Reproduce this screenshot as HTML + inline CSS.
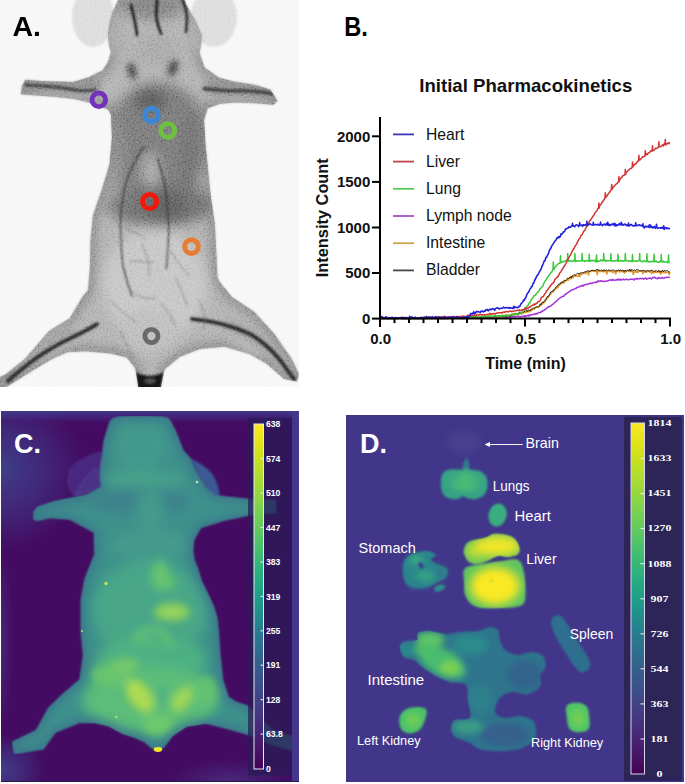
<!DOCTYPE html>
<html><head><meta charset="utf-8"><style>
html,body{margin:0;padding:0;background:#fff;}
body{width:685px;height:784px;overflow:hidden;}
svg{display:block;}
</style></head><body>
<svg width="685" height="784" viewBox="0 0 685 784">
<rect width="685" height="784" fill="#fff"/>

<svg x="0" y="0" width="299" height="387" viewBox="0 0 299 387" overflow="hidden">
 <defs>
  <filter id="blA" x="-5%" y="-5%" width="110%" height="110%"><feGaussianBlur stdDeviation="1.1"/></filter>
  <filter id="blA3" x="-30%" y="-30%" width="160%" height="160%"><feGaussianBlur stdDeviation="3"/></filter>
  <filter id="blA6" x="-30%" y="-30%" width="160%" height="160%"><feGaussianBlur stdDeviation="6"/></filter>
  <filter id="blA1" x="-10%" y="-10%" width="120%" height="120%"><feGaussianBlur stdDeviation="0.8"/></filter>
  <filter id="edgeA" x="-5%" y="-5%" width="110%" height="110%"><feGaussianBlur stdDeviation="5"/></filter>
  <filter id="noiseA" x="0" y="0" width="100%" height="100%">
   <feTurbulence type="fractalNoise" baseFrequency="0.6" numOctaves="2" seed="4" result="t"/>
   <feColorMatrix in="t" type="matrix" values="2 0 0 0 -0.5  2 0 0 0 -0.5  2 0 0 0 -0.5  0 0 0 0 1"/>
  </filter>
  <clipPath id="clA"><path d="M119.5 -3.0 L116.0 5.0 L112.5 12.3 L109.0 25.0 L108.0 35.0 L109.0 45.0 L111.0 52.0 L108.0 62.0 L102.6 70.2 L88.0 77.5 L73.4 81.9 L44.2 81.2 L25.2 79.7 L22.0 86.0 L20.8 94.3 L29.6 95.0 L51.5 96.5 L73.4 98.7 L88.0 102.3 L98.0 106.0 L108.4 109.6 L111.0 115.0 L112.0 138.0 L109.6 164.0 L102.0 189.0 L93.0 215.0 L90.4 240.0 L90.0 266.0 L88.0 290.0 L81.7 298.0 L69.5 318.6 L49.0 331.0 L38.8 343.0 L24.5 359.5 L6.0 374.0 L-2.0 378.0 L-2.0 392.0 L8.0 386.0 L30.7 371.7 L51.0 359.5 L67.4 352.3 L85.8 351.3 L110.4 353.4 L126.7 357.4 L134.9 367.7 L136.0 372.6 L139.0 392.0 L160.0 392.0 L163.7 372.6 L165.0 369.0 L180.0 356.7 L199.8 349.0 L224.6 346.7 L249.5 354.0 L267.0 364.0 L284.0 379.0 L296.8 381.6 L299.0 374.0 L291.8 359.0 L274.4 334.0 L254.5 312.0 L232.0 297.0 L219.7 282.0 L217.5 277.0 L216.2 250.0 L214.8 224.0 L210.8 197.0 L208.1 170.0 L205.4 143.6 L204.0 120.0 L207.5 108.4 L219.2 104.0 L233.8 102.6 L255.7 103.3 L273.2 104.7 L277.6 101.0 L270.3 89.4 L255.7 85.0 L233.8 81.4 L219.2 77.7 L204.6 67.5 L199.5 53.0 L201.0 45.0 L201.9 35.0 L196.0 22.0 L189.6 10.5 L186.0 4.0 L183.5 -3.0 Z"/></clipPath>
 </defs>
 <rect width="299" height="387" fill="#f7f7f7"/>
 <g filter="url(#blA1)">
  <ellipse cx="93" cy="17" rx="21" ry="30" fill="#dcdcdc"/>
  <ellipse cx="214" cy="17" rx="23" ry="30" fill="#dcdcdc"/>
 </g>
 <path d="M119.5 -3.0 L116.0 5.0 L112.5 12.3 L109.0 25.0 L108.0 35.0 L109.0 45.0 L111.0 52.0 L108.0 62.0 L102.6 70.2 L88.0 77.5 L73.4 81.9 L44.2 81.2 L25.2 79.7 L22.0 86.0 L20.8 94.3 L29.6 95.0 L51.5 96.5 L73.4 98.7 L88.0 102.3 L98.0 106.0 L108.4 109.6 L111.0 115.0 L112.0 138.0 L109.6 164.0 L102.0 189.0 L93.0 215.0 L90.4 240.0 L90.0 266.0 L88.0 290.0 L81.7 298.0 L69.5 318.6 L49.0 331.0 L38.8 343.0 L24.5 359.5 L6.0 374.0 L-2.0 378.0 L-2.0 392.0 L8.0 386.0 L30.7 371.7 L51.0 359.5 L67.4 352.3 L85.8 351.3 L110.4 353.4 L126.7 357.4 L134.9 367.7 L136.0 372.6 L139.0 392.0 L160.0 392.0 L163.7 372.6 L165.0 369.0 L180.0 356.7 L199.8 349.0 L224.6 346.7 L249.5 354.0 L267.0 364.0 L284.0 379.0 L296.8 381.6 L299.0 374.0 L291.8 359.0 L274.4 334.0 L254.5 312.0 L232.0 297.0 L219.7 282.0 L217.5 277.0 L216.2 250.0 L214.8 224.0 L210.8 197.0 L208.1 170.0 L205.4 143.6 L204.0 120.0 L207.5 108.4 L219.2 104.0 L233.8 102.6 L255.7 103.3 L273.2 104.7 L277.6 101.0 L270.3 89.4 L255.7 85.0 L233.8 81.4 L219.2 77.7 L204.6 67.5 L199.5 53.0 L201.0 45.0 L201.9 35.0 L196.0 22.0 L189.6 10.5 L186.0 4.0 L183.5 -3.0 Z" fill="#b0b0b0" filter="url(#blA)"/>
 <g clip-path="url(#clA)">
  <path d="M119.5 -3.0 L116.0 5.0 L112.5 12.3 L109.0 25.0 L108.0 35.0 L109.0 45.0 L111.0 52.0 L108.0 62.0 L102.6 70.2 L88.0 77.5 L73.4 81.9 L44.2 81.2 L25.2 79.7 L22.0 86.0 L20.8 94.3 L29.6 95.0 L51.5 96.5 L73.4 98.7 L88.0 102.3 L98.0 106.0 L108.4 109.6 L111.0 115.0 L112.0 138.0 L109.6 164.0 L102.0 189.0 L93.0 215.0 L90.4 240.0 L90.0 266.0 L88.0 290.0 L81.7 298.0 L69.5 318.6 L49.0 331.0 L38.8 343.0 L24.5 359.5 L6.0 374.0 L-2.0 378.0 L-2.0 392.0 L8.0 386.0 L30.7 371.7 L51.0 359.5 L67.4 352.3 L85.8 351.3 L110.4 353.4 L126.7 357.4 L134.9 367.7 L136.0 372.6 L139.0 392.0 L160.0 392.0 L163.7 372.6 L165.0 369.0 L180.0 356.7 L199.8 349.0 L224.6 346.7 L249.5 354.0 L267.0 364.0 L284.0 379.0 L296.8 381.6 L299.0 374.0 L291.8 359.0 L274.4 334.0 L254.5 312.0 L232.0 297.0 L219.7 282.0 L217.5 277.0 L216.2 250.0 L214.8 224.0 L210.8 197.0 L208.1 170.0 L205.4 143.6 L204.0 120.0 L207.5 108.4 L219.2 104.0 L233.8 102.6 L255.7 103.3 L273.2 104.7 L277.6 101.0 L270.3 89.4 L255.7 85.0 L233.8 81.4 L219.2 77.7 L204.6 67.5 L199.5 53.0 L201.0 45.0 L201.9 35.0 L196.0 22.0 L189.6 10.5 L186.0 4.0 L183.5 -3.0 Z" fill="none" stroke="#7e7e7e" stroke-width="12" filter="url(#edgeA)" opacity="0.75"/>
  <g filter="url(#blA6)">
   <ellipse cx="152" cy="6" rx="32" ry="14" fill="#808080"/>
   <ellipse cx="156" cy="50" rx="22" ry="16" fill="#a6a6a6"/>
   <ellipse cx="116" cy="35" rx="9" ry="22" fill="#a8a8a8"/>
   <ellipse cx="195" cy="35" rx="9" ry="22" fill="#a8a8a8"/>
   <ellipse cx="158" cy="140" rx="52" ry="58" fill="#777"/>
   <ellipse cx="150" cy="100" rx="16" ry="12" fill="#5c5c5c"/>
   <ellipse cx="160" cy="205" rx="54" ry="22" fill="#6e6e6e"/>
   <ellipse cx="170" cy="205" rx="28" ry="14" fill="#5e5e5e"/>
   <ellipse cx="151" cy="170" rx="9" ry="17" fill="#a8a8a8"/>
   <ellipse cx="190" cy="165" rx="9" ry="55" fill="#6e6e6e"/>
   <ellipse cx="118" cy="165" rx="7" ry="45" fill="#868686"/>
   <ellipse cx="155" cy="285" rx="52" ry="55" fill="#c4c4c4"/>
   <ellipse cx="150" cy="330" rx="30" ry="22" fill="#bcbcbc"/>
   <ellipse cx="60" cy="340" rx="25" ry="8" fill="#b8b8b8" transform="rotate(-35 60 340)"/>
   <ellipse cx="245" cy="340" rx="25" ry="8" fill="#b8b8b8" transform="rotate(35 245 340)"/>
   <ellipse cx="60" cy="94" rx="30" ry="3" fill="#b8b8b8"/>
   <ellipse cx="245" cy="99" rx="28" ry="3" fill="#b8b8b8"/>
  </g>
  <g filter="url(#blA3)">
   <path d="M22 82 C50 82 75 84 100 80 L100 92 C75 92 50 90 22 90 Z" fill="#858585"/>
   <path d="M205 80 C230 84 255 86 276 92 L276 100 C255 96 230 94 205 94 Z" fill="#858585"/>
   <path d="M70 322 C55 330 35 345 15 365 L22 375 C40 360 58 346 80 336 Z" fill="#9c9c9c"/>
   <path d="M225 318 C250 325 270 340 290 365 L283 372 C265 352 248 338 222 330 Z" fill="#9c9c9c"/>
  </g>
  <g filter="url(#blA3)">
   <ellipse cx="132" cy="71" rx="4" ry="9" fill="#3c3c3c" transform="rotate(-15 132 71)"/>
   <ellipse cx="173" cy="68" rx="4.5" ry="9" fill="#3c3c3c" transform="rotate(20 173 68)"/>
  </g>
  <g fill="none" stroke="#2a2a2a" stroke-linecap="round" filter="url(#blA1)">
   <path d="M26 85 C45 86 60 87.5 72 89.5 C80 91 88 91 95 90" stroke-width="3" stroke="#404040"/>
   <path d="M204 88.7 C215 90 225 91 234 91 C245 91 258 90 272 94" stroke-width="3.2" stroke="#3a3a3a"/>
   <path d="M97 324 C85 332 72 337 61 343 C50 349 40 355 31 362 C22 369 14 375 8 381" stroke-width="4"/>
   <path d="M192 319 C215 321 235 327 250 334 C262 341 272 350 280 360 C286 368 290 374 294 379" stroke-width="4"/>
   <path d="M143.6 146.9 C135 160 128 175 125 186 C121 205 120 222 120.7 232 C121 245 122 258 123 266 C126 278 129 288 132 296" stroke-width="1.3" stroke="#333"/>
   <path d="M157.4 158.4 C162 170 165 185 166.5 197 C168 215 169 225 168.8 232 C168 248 167 258 166.5 268.5" stroke-width="1.3" stroke="#333"/>
   <path d="M131 5 C133 14 136 24 137 35" stroke-width="2.8" stroke="#1e1e1e"/>
   <path d="M157.2 0 C156.5 7 156 13 156.5 18 C157.5 24 159 29 161 33.5" stroke-width="2.8" stroke="#1e1e1e"/>
   <path d="M182.6 0 C185 6 187 12 187 18 C187 24 186.5 28 186 32" stroke-width="2.4" stroke="#1e1e1e"/>
   <path d="M125 228 C132 234 140 232 146 240 M130 262 C138 259 146 264 154 262 M170 250 C176 260 181 268 190 276 M110 300 C118 308 126 316 136 322 M142 244 C146 254 150 262 149 276 M176 278 C180 288 184 298 188 306 M130 290 C137 297 146 300 156 298 M160 302 C166 309 172 316 175 326 M199 300 C203 309 206 318 204 328 M121 332 C125 341 129 349 133 357" stroke-width="0.7" stroke="#666"/>
  </g>
  <path d="M135.5 372 C145 377 155 377 164 372 L160.5 390 L138.5 390 Z" fill="#161616" filter="url(#blA1)"/>
  <ellipse cx="150" cy="381" rx="6" ry="3" fill="#4a4a4a" filter="url(#blA1)"/>
 </g>
 <rect x="0" y="0" width="299" height="387" fill="#777" filter="url(#noiseA)" opacity="0.2" style="mix-blend-mode:overlay"/>
 <g fill="none" stroke-width="4.9">
  <circle cx="98.8" cy="99.8" r="6.8" stroke="#7432bc"/>
  <circle cx="151.5" cy="115" r="6.8" stroke="#3b87d6"/>
  <circle cx="167.8" cy="130.5" r="6.9" stroke="#6cc23e"/>
  <circle cx="149.6" cy="201.6" r="7.1" stroke="#f2180e"/>
  <circle cx="191.5" cy="246.6" r="6.9" stroke="#ea7c32"/>
  <circle cx="151.4" cy="336" r="6.6" stroke="#6a6a6a"/>
 </g>
 <text x="12.5" y="36.1" font-family="Liberation Sans" font-weight="bold" font-size="28.5" fill="#000">A.</text>
</svg>

<text x="344.3" y="36.2" font-family="Liberation Sans" font-weight="bold" font-size="28.5" textLength="23.6" lengthAdjust="spacingAndGlyphs" fill="#000">B.</text>
<text x="419.3" y="91.8" font-family="Liberation Sans" font-weight="bold" font-size="19" textLength="213" lengthAdjust="spacingAndGlyphs" fill="#111">Initial Pharmacokinetics</text>
<g font-family="Liberation Sans" font-weight="bold" font-size="15" fill="#111"><text x="370.3" y="324.0" text-anchor="end">0</text><text x="370.3" y="278.4" text-anchor="end">500</text><text x="370.3" y="232.9" text-anchor="end">1000</text><text x="370.3" y="187.3" text-anchor="end">1500</text><text x="370.3" y="141.7" text-anchor="end">2000</text><text x="380.6" y="344.2" text-anchor="middle">0.0</text><text x="525.6" y="344.2" text-anchor="middle">0.5</text><text x="670.6" y="344.2" text-anchor="middle">1.0</text></g>
<text x="525.5" y="368.5" text-anchor="middle" font-family="Liberation Sans" font-weight="bold" font-size="16" fill="#111">Time (min)</text>
<text transform="translate(328.3,217.7) rotate(-90)" text-anchor="middle" font-family="Liberation Sans" font-weight="bold" font-size="16.7" textLength="119" lengthAdjust="spacingAndGlyphs" fill="#111">Intensity Count</text>
<g font-family="Liberation Sans" font-size="15.7" fill="#111"><line x1="393" y1="134.4" x2="414" y2="134.4" stroke="#3838b4" stroke-width="1.8"/><text x="426" y="140.4">Heart</text><line x1="393" y1="161.6" x2="414" y2="161.6" stroke="#c24646" stroke-width="1.8"/><text x="426" y="167.3">Liver</text><line x1="393" y1="188.8" x2="414" y2="188.8" stroke="#56c85a" stroke-width="1.8"/><text x="426" y="194.3">Lung</text><line x1="393" y1="216.0" x2="414" y2="216.0" stroke="#a24ed2" stroke-width="1.8"/><text x="426" y="221.2">Lymph node</text><line x1="393" y1="243.2" x2="414" y2="243.2" stroke="#cfa24e" stroke-width="1.8"/><text x="426" y="248.2">Intestine</text><line x1="393" y1="270.4" x2="414" y2="270.4" stroke="#484848" stroke-width="1.8"/><text x="426" y="275.1">Bladder</text></g>
<g fill="none" stroke-linejoin="round">
 <path d="M381.0 318.0L381.8 318.2L382.6 318.4L383.4 318.5L384.2 318.5L385.0 318.6L385.8 318.1L386.6 318.6L387.4 318.6L388.2 318.6L389.0 318.6L389.8 318.6L390.6 318.6L391.4 318.6L392.2 318.4L393.0 318.2L393.8 318.0L394.6 318.6L395.4 318.6L396.2 318.1L397.0 318.4L397.8 318.6L398.6 318.3L399.4 318.2L400.2 318.3L401.0 317.7L401.8 318.4L402.6 318.3L403.4 318.6L404.2 318.6L405.0 318.3L405.8 318.4L406.6 318.6L407.4 318.6L408.2 318.5L409.0 318.4L409.8 317.9L410.6 318.3L411.4 318.4L412.2 318.1L413.0 318.6L413.8 317.7L414.6 318.3L415.4 318.6L416.2 318.6L417.0 318.6L417.8 317.8L418.6 318.1L419.4 318.4L420.2 318.4L421.0 318.2L421.8 318.1L422.6 318.6L423.4 317.9L424.2 318.1L425.0 318.6L425.8 318.6L426.6 318.6L427.4 318.0L428.2 318.0L429.0 317.9L429.8 317.8L430.6 318.1L431.4 318.6L432.2 318.4L433.0 318.0L433.8 318.0L434.6 317.8L435.4 318.6L436.2 317.4L437.0 318.3L437.8 317.6L438.6 317.8L439.4 317.6L440.2 318.6L441.0 318.2L441.8 318.6L442.6 317.8L443.4 317.7L444.2 318.4L445.0 318.4L445.8 318.0L446.6 317.3L447.4 318.6L448.2 318.3L449.0 318.2L449.8 317.8L450.6 318.3L451.4 317.8L452.2 318.1L453.0 318.0L453.8 318.5L454.6 317.8L455.4 317.9L456.2 318.4L457.0 318.1L457.8 318.0L458.6 317.9L459.4 318.3L460.2 317.7L461.0 318.1L461.8 318.6L462.6 318.0L463.4 317.6L464.2 317.4L465.0 317.9L465.8 317.3L466.6 317.2L467.4 317.5L468.2 317.4L469.0 318.1L469.8 317.2L470.6 318.4L471.4 317.4L472.2 317.8L473.0 318.0L473.8 317.8L474.6 318.0L475.4 317.3L476.2 316.7L477.0 317.5L477.8 316.9L478.6 317.4L479.4 317.9L480.2 317.5L481.0 317.3L481.8 317.1L482.6 317.4L483.4 317.4L484.2 316.8L485.0 317.6L485.8 317.0L486.6 317.5L487.4 317.2L488.2 317.8L489.0 317.7L489.8 317.3L490.6 317.3L491.4 317.5L492.2 317.8L493.0 317.7L493.8 317.3L494.6 317.3L495.4 317.8L496.2 316.5L497.0 317.4L497.8 316.8L498.6 317.7L499.4 316.9L500.2 317.0L501.0 316.6L501.8 317.0L502.6 317.3L503.4 317.7L504.2 316.5L505.0 316.8L505.8 318.5L506.6 317.3L507.4 316.9L508.2 317.1L509.0 315.8L509.8 317.5L510.6 316.9L511.4 316.2L512.2 317.2L513.0 316.5L513.8 316.3L514.6 316.9L515.4 316.8L516.2 316.4L517.0 316.6L517.8 316.0L518.6 316.0L519.4 316.9L520.2 317.0L521.0 316.6L521.8 316.6L522.6 316.2L523.4 316.2L524.2 315.8L525.0 316.8L525.8 315.7L526.6 316.0L527.4 315.7L528.2 315.0L529.0 316.2L529.8 315.1L530.6 314.8L531.4 315.0L532.2 314.4L533.0 314.6L533.8 314.1L534.6 314.5L535.4 314.1L536.2 313.3L537.0 314.0L537.8 313.3L538.6 312.5L539.4 312.7L540.2 312.3L541.0 312.5L541.8 311.0L542.6 311.2L543.4 310.4L544.2 310.2L545.0 309.4L545.8 309.0L546.6 308.7L547.4 307.5L548.2 306.7L549.0 307.0L549.8 306.3L550.6 305.9L551.4 305.5L552.2 304.5L553.0 304.4L553.8 303.3L554.6 302.6L555.4 302.2L556.2 301.4L557.0 300.5L557.8 299.9L558.6 298.9L559.4 298.3L560.2 297.9L561.0 297.6L561.8 296.5L562.6 296.4L563.4 296.3L564.2 295.8L565.0 294.3L565.8 294.2L566.6 293.4L567.4 293.0L568.2 292.4L569.0 291.8L569.8 291.4L570.6 290.7L571.4 290.1L572.2 289.9L573.0 289.6L573.8 289.5L574.6 288.8L575.4 288.6L576.2 288.5L577.0 287.3L577.8 287.2L578.6 287.2L579.4 286.7L580.2 286.0L581.0 286.5L581.8 285.8L582.6 285.2L583.4 286.1L584.2 284.6L585.0 284.9L585.8 284.4L586.6 284.5L587.4 284.5L588.2 283.7L589.0 283.8L589.8 283.6L590.6 283.0L591.4 283.7L592.2 283.1L593.0 282.8L593.8 282.4L594.6 282.4L595.4 282.4L596.2 282.0L597.0 282.5L597.8 280.9L598.6 280.9L599.4 281.5L600.2 280.7L601.0 281.3L601.8 281.0L602.6 281.4L603.4 281.2L604.2 281.5L605.0 281.3L605.8 281.3L606.6 281.0L607.4 281.1L608.2 280.8L609.0 280.3L609.8 280.0L610.6 279.9L611.4 280.5L612.2 279.3L613.0 280.3L613.8 279.9L614.6 280.4L615.4 280.1L616.2 279.7L617.0 280.0L617.8 279.0L618.6 280.0L619.4 280.0L620.2 279.0L621.0 280.1L621.8 279.6L622.6 279.7L623.4 279.0L624.2 279.8L625.0 279.7L625.8 279.4L626.6 279.0L627.4 279.7L628.2 279.8L629.0 279.4L629.8 279.6L630.6 279.0L631.4 279.2L632.2 279.3L633.0 279.1L633.8 280.1L634.6 279.1L635.4 278.7L636.2 279.2L637.0 278.4L637.8 279.0L638.6 279.1L639.4 278.5L640.2 278.6L641.0 278.3L641.8 278.7L642.6 278.3L643.4 279.2L644.2 278.8L645.0 278.4L645.8 277.8L646.6 279.2L647.4 278.9L648.2 278.5L649.0 278.3L649.8 278.3L650.6 278.0L651.4 278.9L652.2 278.2L653.0 277.5L653.8 277.8L654.6 277.0L655.4 278.2L656.2 278.3L657.0 278.6L657.8 278.7L658.6 277.5L659.4 278.0L660.2 278.2L661.0 278.1L661.8 277.5L662.6 278.0L663.4 277.9L664.2 278.2L665.0 277.6L665.8 277.5L666.6 277.3L667.4 277.4L668.2 277.2L669.0 277.3L669.8 277.6" stroke="#a236d8" stroke-width="1.5"/>
 <path d="M381.0 318.5L381.8 318.1L382.6 318.6L383.4 318.6L384.2 318.6L385.0 317.5L385.8 318.5L386.6 317.7L387.4 318.5L388.2 318.4L389.0 317.7L389.8 318.4L390.6 318.6L391.4 318.5L392.2 318.6L393.0 317.9L393.8 317.9L394.6 317.7L395.4 318.3L396.2 318.6L397.0 318.5L397.8 318.3L398.6 317.7L399.4 318.5L400.2 318.1L401.0 317.3L401.8 317.4L402.6 318.1L403.4 317.8L404.2 318.6L405.0 318.3L405.8 317.7L406.6 318.0L407.4 318.6L408.2 317.8L409.0 318.6L409.8 318.4L410.6 318.6L411.4 318.5L412.2 318.0L413.0 318.5L413.8 318.2L414.6 318.6L415.4 318.1L416.2 318.6L417.0 318.1L417.8 318.4L418.6 317.8L419.4 318.2L420.2 318.2L421.0 318.2L421.8 318.6L422.6 317.9L423.4 317.7L424.2 318.6L425.0 318.0L425.8 317.8L426.6 318.6L427.4 318.5L428.2 316.8L429.0 317.9L429.8 318.4L430.6 318.5L431.4 317.8L432.2 318.6L433.0 317.6L433.8 317.9L434.6 318.1L435.4 318.0L436.2 318.4L437.0 318.5L437.8 317.9L438.6 318.6L439.4 317.6L440.2 317.8L441.0 318.6L441.8 317.9L442.6 318.4L443.4 317.7L444.2 317.7L445.0 317.8L445.8 317.9L446.6 317.7L447.4 317.8L448.2 318.1L449.0 318.4L449.8 317.8L450.6 318.1L451.4 318.2L452.2 317.2L453.0 316.9L453.8 318.5L454.6 318.4L455.4 317.7L456.2 317.8L457.0 317.2L457.8 316.9L458.6 317.8L459.4 316.9L460.2 318.0L461.0 317.2L461.8 317.7L462.6 318.5L463.4 318.5L464.2 317.4L465.0 318.0L465.8 317.0L466.6 317.2L467.4 317.6L468.2 318.1L469.0 317.1L469.8 317.6L470.6 317.4L471.4 316.7L472.2 317.3L473.0 318.0L473.8 317.2L474.6 317.5L475.4 317.7L476.2 316.9L477.0 317.8L477.8 317.9L478.6 318.0L479.4 317.8L480.2 316.9L481.0 316.8L481.8 316.7L482.6 316.6L483.4 316.6L484.2 317.5L485.0 317.7L485.8 316.6L486.6 317.3L487.4 316.3L488.2 316.7L489.0 316.4L489.8 316.0L490.6 316.8L491.4 316.8L492.2 316.6L493.0 316.5L493.8 316.2L494.6 316.6L495.4 316.4L496.2 316.8L497.0 316.0L497.8 316.7L498.6 316.8L499.4 317.1L500.2 317.0L501.0 316.6L501.8 316.1L502.6 315.4L503.4 316.3L504.2 316.9L505.0 316.9L505.8 314.7L506.6 315.5L507.4 315.6L508.2 315.1L509.0 315.6L509.8 315.4L510.6 315.0L511.4 315.1L512.2 314.1L513.0 314.3L513.8 314.1L514.6 314.9L515.4 313.4L516.2 314.0L517.0 314.3L517.8 313.7L518.6 313.9L519.4 313.0L520.2 313.4L521.0 313.4L521.8 313.9L522.6 312.9L523.4 313.1L524.2 312.1L525.0 312.0L525.8 312.5L526.6 311.7L527.4 311.9L528.2 311.3L529.0 311.7L529.8 311.6L530.6 309.7L531.4 310.7L532.2 309.7L533.0 309.4L533.8 308.7L534.6 308.8L535.4 307.5L536.2 307.3L537.0 306.9L537.8 307.0L538.6 306.9L539.4 306.3L540.2 305.7L541.0 304.7L541.8 303.5L542.6 303.8L543.4 302.9L544.2 302.2L545.0 301.8L545.8 300.0L546.6 299.0L547.4 296.9L548.2 297.3L549.0 296.0L549.8 294.6L550.6 294.1L551.4 292.4L552.2 291.7L553.0 292.1L553.8 290.7L554.6 290.0L555.4 289.1L556.2 288.2L557.0 287.2L557.8 287.6L558.6 285.7L559.4 285.4L560.2 284.4L561.0 283.7L561.8 282.1L562.6 281.8L563.4 283.0L564.2 282.5L565.0 281.0L565.8 280.7L566.6 280.5L567.4 279.2L568.2 280.1L569.0 278.2L569.8 278.0L570.6 276.5L570.9 279.0L571.2 276.5L571.4 278.2L572.2 277.1L573.0 277.5L573.8 275.9L574.6 276.2L575.4 275.8L576.2 275.5L577.0 276.2L577.8 276.1L578.6 275.4L579.4 274.2L579.7 276.7L580.0 274.2L580.2 274.6L581.0 274.6L581.8 274.0L582.6 273.8L583.4 273.5L584.2 272.6L585.0 273.0L585.8 273.5L586.6 272.0L587.4 272.3L588.2 272.5L588.5 275.0L588.8 272.5L589.0 271.3L589.8 271.8L590.6 270.9L591.4 271.3L592.2 270.8L593.0 271.0L593.8 271.2L594.6 271.3L595.4 271.3L596.2 270.2L597.0 272.2L597.3 274.7L597.6 272.2L597.8 271.3L598.6 270.9L599.4 271.1L600.2 271.6L601.0 270.9L601.8 271.2L602.6 271.2L603.4 271.7L604.2 271.0L605.0 271.6L605.8 271.6L606.6 271.3L606.9 273.8L607.2 271.3L607.4 272.0L608.2 271.4L609.0 270.8L609.8 271.5L610.6 271.5L611.4 271.4L612.2 271.5L613.0 272.6L613.8 271.5L614.6 271.6L615.4 271.3L615.7 273.8L616.0 271.3L616.2 272.1L617.0 271.4L617.8 271.0L618.6 270.8L619.4 271.7L620.2 271.8L621.0 270.6L621.8 271.0L622.6 271.7L623.4 271.9L624.2 270.7L624.5 273.2L624.8 270.7L625.0 271.2L625.8 271.8L626.6 271.1L627.4 271.2L628.2 271.1L629.0 270.7L629.8 271.4L630.6 271.6L631.4 270.7L632.2 271.5L633.0 272.0L633.3 274.5L633.6 272.0L633.8 271.5L634.6 271.9L635.4 271.2L636.2 272.1L637.0 271.1L637.8 272.4L638.6 271.3L639.4 271.1L640.2 271.1L641.0 271.3L641.8 271.3L642.6 271.2L642.9 273.7L643.2 271.2L643.4 271.4L644.2 271.9L645.0 272.1L645.8 271.5L646.6 272.3L647.4 271.2L648.2 271.2L649.0 271.2L649.8 272.1L650.6 271.0L651.4 271.2L651.7 273.7L652.0 271.2L652.2 272.5L653.0 272.8L653.8 272.6L654.6 271.2L655.4 272.0L656.2 272.5L657.0 272.1L657.8 271.3L658.6 272.0L659.4 271.3L660.2 271.6L660.5 274.1L660.8 271.6L661.0 273.3L661.8 272.6L662.6 271.6L663.4 271.6L664.2 272.6L665.0 272.1L665.8 272.8L666.6 272.2L667.4 272.5L668.2 272.7L669.0 272.1L669.3 274.6L669.6 272.1L669.8 271.7" stroke="#e0962e" stroke-width="1.7"/>
 <path d="M381.0 318.6L381.8 318.5L382.6 318.1L383.4 318.6L384.2 318.0L385.0 317.9L385.8 318.6L386.6 317.9L387.4 318.6L388.2 318.6L389.0 318.3L389.8 318.4L390.6 318.6L391.4 318.6L392.2 317.4L393.0 317.5L393.8 318.6L394.6 318.5L395.4 317.0L396.2 317.5L397.0 318.3L397.8 317.7L398.6 318.6L399.4 318.3L400.2 318.6L401.0 317.6L401.8 318.6L402.6 318.6L403.4 317.8L404.2 318.6L405.0 318.6L405.8 318.6L406.6 318.2L407.4 317.5L408.2 317.7L409.0 318.6L409.8 318.6L410.6 318.6L411.4 318.6L412.2 318.6L413.0 317.9L413.8 317.5L414.6 318.3L415.4 318.5L416.2 318.2L417.0 317.3L417.8 317.9L418.6 317.3L419.4 318.2L420.2 317.5L421.0 318.0L421.8 318.3L422.6 318.2L423.4 318.6L424.2 317.5L425.0 316.8L425.8 318.6L426.6 318.6L427.4 318.6L428.2 318.2L429.0 318.4L429.8 318.1L430.6 317.3L431.4 317.7L432.2 318.3L433.0 317.7L433.8 318.6L434.6 317.1L435.4 317.7L436.2 318.6L437.0 317.6L437.8 317.3L438.6 317.1L439.4 317.5L440.2 318.6L441.0 318.2L441.8 318.2L442.6 317.6L443.4 318.4L444.2 317.9L445.0 317.3L445.8 317.6L446.6 318.0L447.4 318.5L448.2 317.8L449.0 318.1L449.8 318.6L450.6 317.3L451.4 317.0L452.2 318.3L453.0 318.0L453.8 317.7L454.6 317.9L455.4 317.5L456.2 318.0L457.0 317.5L457.8 318.1L458.6 316.9L459.4 317.1L460.2 317.7L461.0 317.3L461.8 318.0L462.6 317.5L463.4 317.2L464.2 317.6L465.0 317.2L465.8 316.5L466.6 316.8L467.4 317.0L468.2 317.1L469.0 317.5L469.8 317.9L470.6 317.7L471.4 318.4L472.2 318.1L473.0 317.2L473.8 318.3L474.6 318.0L475.4 317.0L476.2 317.4L477.0 317.9L477.8 317.3L478.6 317.8L479.4 317.4L480.2 317.6L481.0 316.9L481.8 317.3L482.6 316.9L483.4 317.5L484.2 316.0L485.0 317.2L485.8 317.7L486.6 317.3L487.4 316.9L488.2 317.2L489.0 316.4L489.8 316.4L490.6 316.6L491.4 316.7L492.2 317.4L493.0 316.2L493.8 317.3L494.6 315.8L495.4 316.2L496.2 316.6L497.0 317.3L497.8 316.2L498.6 315.3L499.4 316.8L500.2 316.5L501.0 315.8L501.8 315.8L502.6 316.0L503.4 316.4L504.2 316.6L505.0 315.2L505.8 317.4L506.6 315.9L507.4 315.5L508.2 316.0L509.0 315.6L509.8 316.7L510.6 315.8L511.4 314.8L512.2 314.6L513.0 314.4L513.8 314.3L514.6 314.7L515.4 313.7L516.2 314.9L517.0 313.7L517.8 313.5L518.6 313.9L519.4 312.0L520.2 312.4L521.0 313.1L521.8 312.6L522.6 312.3L523.4 312.4L524.2 311.5L525.0 311.5L525.8 310.6L526.6 310.0L527.4 311.6L528.2 310.0L529.0 309.9L529.8 310.8L530.6 310.3L531.4 309.0L532.2 308.7L533.0 308.6L533.8 307.7L534.6 308.2L535.4 307.6L536.2 307.2L537.0 307.1L537.8 306.7L538.6 306.9L539.4 306.2L540.2 303.8L541.0 304.8L541.8 303.0L542.6 302.0L543.4 302.5L544.2 300.8L545.0 300.0L545.8 299.9L546.6 297.8L547.4 296.6L548.2 296.3L549.0 295.8L549.8 294.3L550.6 292.0L551.4 291.6L552.2 290.9L553.0 291.3L553.8 289.9L554.6 289.0L555.4 288.4L556.2 286.7L557.0 286.4L557.8 285.7L558.6 284.1L559.4 284.1L560.2 283.8L561.0 282.3L561.8 282.8L562.6 282.3L563.4 281.9L564.2 280.3L565.0 280.3L565.8 280.6L566.6 279.7L567.4 278.2L568.2 278.4L569.0 278.6L569.8 277.3L570.6 277.1L571.4 278.0L572.2 276.1L573.0 275.7L573.8 274.8L574.6 274.6L575.4 275.6L576.2 274.4L577.0 273.5L577.8 273.4L578.6 273.7L579.4 273.9L580.2 272.8L581.0 273.4L581.8 272.4L582.6 272.7L583.4 272.6L584.2 272.4L585.0 271.6L585.8 271.6L586.6 271.8L587.4 270.5L588.2 271.2L589.0 271.3L589.8 271.5L590.6 270.7L591.4 270.5L592.2 270.6L593.0 270.0L593.8 270.3L594.6 270.7L595.4 270.6L596.2 269.8L597.0 270.2L597.8 269.1L598.6 270.9L599.4 270.1L600.2 270.5L601.0 269.7L601.8 270.3L602.6 270.7L603.4 271.0L604.2 269.6L605.0 270.9L605.8 270.3L606.6 269.9L607.4 270.7L608.2 270.2L609.0 270.2L609.8 270.0L610.6 270.5L611.4 270.4L612.2 270.3L613.0 269.8L613.8 270.1L614.6 270.6L615.4 271.2L616.2 270.4L617.0 271.2L617.8 270.4L618.6 269.7L619.4 270.8L620.2 269.8L621.0 270.6L621.8 271.0L622.6 270.2L623.4 270.3L624.2 271.9L625.0 270.5L625.8 270.5L626.6 270.9L627.4 270.3L628.2 270.3L629.0 270.6L629.8 269.0L630.6 271.2L631.4 269.8L632.2 269.7L633.0 270.7L633.8 270.4L634.6 269.7L635.4 270.5L636.2 269.7L637.0 270.0L637.8 269.6L638.6 270.0L639.4 270.7L640.2 270.6L641.0 270.7L641.8 271.1L642.6 270.5L643.4 270.2L644.2 270.4L645.0 271.6L645.8 270.7L646.6 270.9L647.4 270.6L648.2 270.9L649.0 271.0L649.8 270.8L650.6 270.7L651.4 270.4L652.2 270.4L653.0 271.1L653.8 271.4L654.6 271.5L655.4 271.0L656.2 270.5L657.0 271.4L657.8 271.5L658.6 270.2L659.4 271.7L660.2 271.6L661.0 272.2L661.8 270.6L662.6 270.6L663.4 271.8L664.2 270.3L665.0 271.0L665.8 270.8L666.6 270.9L667.4 270.4L668.2 271.5L669.0 272.2L669.8 271.9" stroke="#111" stroke-width="0.9"/>
 <path d="M381.0 318.4L381.8 318.4L382.6 317.9L383.4 318.6L384.2 317.7L385.0 318.0L385.8 318.3L386.6 318.1L387.4 318.5L388.2 318.6L389.0 318.2L389.8 318.1L390.6 318.1L391.4 318.1L392.2 318.6L393.0 318.2L393.8 318.4L394.6 318.2L395.4 317.9L396.2 318.6L397.0 317.8L397.8 318.3L398.6 318.6L399.4 317.8L400.2 318.2L401.0 317.6L401.8 318.0L402.6 317.6L403.4 318.1L404.2 318.0L405.0 318.3L405.8 318.6L406.6 318.3L407.4 318.5L408.2 318.2L409.0 318.1L409.8 317.8L410.6 317.4L411.4 318.2L412.2 318.6L413.0 318.3L413.8 317.9L414.6 318.6L415.4 317.9L416.2 317.9L417.0 317.6L417.8 317.7L418.6 318.0L419.4 318.6L420.2 318.0L421.0 317.6L421.8 317.8L422.6 317.9L423.4 317.3L424.2 318.1L425.0 318.3L425.8 318.1L426.6 318.2L427.4 317.5L428.2 317.3L429.0 318.5L429.8 318.4L430.6 317.3L431.4 318.0L432.2 317.9L433.0 318.1L433.8 318.0L434.6 317.7L435.4 317.9L436.2 317.9L437.0 317.8L437.8 317.1L438.6 316.6L439.4 317.5L440.2 317.1L441.0 317.8L441.8 318.0L442.6 317.8L443.4 317.6L444.2 317.7L445.0 318.1L445.8 317.4L446.6 318.0L447.4 317.9L448.2 317.7L449.0 318.2L449.8 317.3L450.6 317.9L451.4 317.2L452.2 317.2L453.0 317.1L453.8 317.7L454.6 317.1L455.4 317.5L456.2 317.0L457.0 317.8L457.8 318.1L458.6 317.5L459.4 318.0L460.2 317.5L461.0 318.2L461.8 317.3L462.6 316.6L463.4 317.8L464.2 317.2L465.0 316.8L465.8 316.9L466.6 316.5L467.4 317.1L468.2 316.7L469.0 317.7L469.8 317.3L470.6 316.4L471.4 316.4L472.2 316.8L473.0 316.2L473.8 316.9L474.6 316.9L475.4 316.6L476.2 316.6L477.0 317.0L477.8 317.4L478.6 317.4L479.4 316.8L480.2 317.1L481.0 316.4L481.8 316.8L482.6 316.3L483.4 316.9L484.2 316.1L485.0 316.2L485.8 316.5L486.6 316.7L487.4 315.9L488.2 316.2L489.0 316.5L489.8 316.5L490.6 316.0L491.4 316.4L492.2 316.2L493.0 316.8L493.8 316.5L494.6 315.7L495.4 315.3L496.2 316.2L497.0 316.6L497.8 316.2L498.6 316.4L499.4 315.8L500.2 315.4L501.0 316.3L501.8 316.0L502.6 316.1L503.4 315.3L504.2 315.8L505.0 315.5L505.8 316.0L506.6 315.3L507.4 315.2L508.2 315.2L509.0 315.8L509.8 315.2L510.6 314.8L511.4 314.6L512.2 314.5L513.0 315.3L513.8 313.9L514.6 314.1L515.4 314.6L516.2 314.6L517.0 313.9L517.8 314.1L518.6 313.9L519.4 313.8L520.2 313.2L521.0 313.4L521.8 312.3L522.6 312.2L523.4 310.3L524.2 310.2L525.0 308.4L525.8 307.3L526.6 307.1L527.4 305.6L528.2 305.1L529.0 303.3L529.8 303.1L530.6 301.1L531.4 299.4L532.2 298.6L533.0 297.7L533.8 295.9L534.6 295.5L535.4 295.2L536.2 294.0L537.0 292.9L537.8 292.0L538.6 291.7L539.4 290.0L540.2 288.4L541.0 288.2L541.8 286.8L542.6 286.5L543.4 284.4L544.2 282.5L545.0 281.1L545.8 280.5L546.6 278.7L547.4 277.5L548.2 276.5L549.0 275.3L549.8 274.1L550.6 273.0L551.4 272.3L552.2 271.3L553.0 268.9L553.3 261.9L553.6 268.9L553.8 269.6L554.6 267.6L555.4 267.2L556.2 265.5L557.0 265.1L557.8 264.3L558.6 263.5L559.4 263.3L560.2 262.8L560.5 255.8L560.8 262.8L561.0 261.9L561.8 262.0L562.6 262.1L563.4 261.8L564.2 261.2L565.0 261.1L565.8 261.0L566.6 260.5L567.4 260.4L567.7 253.4L568.0 260.4L568.2 261.5L569.0 260.7L569.8 260.9L570.6 260.5L571.4 261.3L572.2 261.5L573.0 260.7L573.8 261.0L574.6 260.5L574.9 253.5L575.2 260.5L575.4 261.5L576.2 261.2L577.0 260.5L577.8 261.3L578.6 261.0L579.4 261.0L580.2 261.0L581.0 260.6L581.8 260.6L582.1 253.6L582.4 260.6L582.6 261.1L583.4 260.8L584.2 260.4L585.0 261.6L585.8 260.7L586.6 260.6L587.4 260.5L588.2 261.1L589.0 261.2L589.3 254.2L589.6 261.2L589.8 260.9L590.6 261.2L591.4 260.2L592.2 260.7L593.0 260.6L593.8 260.8L594.6 261.0L595.4 260.0L596.2 262.1L596.5 255.1L596.8 262.1L597.0 260.5L597.8 261.0L598.6 261.2L599.4 261.2L600.2 260.9L601.0 259.7L601.8 260.4L602.6 261.1L603.4 260.5L603.7 253.5L604.0 260.5L604.2 260.4L605.0 259.9L605.8 261.3L606.6 261.0L607.4 260.5L608.2 260.8L609.0 260.8L609.8 260.4L610.6 260.7L610.9 253.7L611.2 260.7L611.4 260.9L612.2 261.0L613.0 261.3L613.8 260.8L614.6 260.6L615.4 261.0L616.2 260.6L617.0 260.3L617.8 261.3L618.1 254.3L618.4 261.3L618.6 260.7L619.4 260.9L620.2 261.1L621.0 260.4L621.8 261.1L622.6 261.0L623.4 260.8L624.2 261.0L625.0 260.6L625.3 253.6L625.6 260.6L625.8 260.0L626.6 260.8L627.4 260.6L628.2 261.3L629.0 261.1L629.8 260.7L630.6 261.0L631.4 261.5L632.2 261.5L632.5 254.5L632.8 261.5L633.0 261.2L633.8 261.2L634.6 260.9L635.4 261.0L636.2 261.3L637.0 261.1L637.8 261.2L638.6 260.7L639.4 260.5L639.7 253.5L640.0 260.5L640.2 260.5L641.0 261.0L641.8 261.8L642.6 261.7L643.4 260.9L644.2 260.7L645.0 261.6L645.8 261.5L646.6 260.8L646.9 253.8L647.2 260.8L647.4 261.8L648.2 261.5L649.0 262.0L649.8 261.6L650.6 261.8L651.4 261.6L652.2 261.2L653.0 261.5L653.8 261.3L654.1 254.3L654.4 261.3L654.6 262.0L655.4 261.2L656.2 261.1L657.0 262.0L657.8 262.2L658.6 262.3L659.4 262.2L660.2 261.2L661.0 261.6L661.3 254.6L661.6 261.6L661.8 261.7L662.6 261.9L663.4 261.1L664.2 262.0L665.0 262.1L665.8 261.7L666.6 262.1L667.4 262.6L668.2 262.1L668.5 255.1L668.8 262.1L669.0 262.6L669.8 262.6" stroke="#3cc83c" stroke-width="1.5"/>
 <path d="M381.0 317.7L381.8 318.0L382.6 317.0L383.4 317.6L384.2 318.6L385.0 317.7L385.8 317.7L386.6 317.5L387.4 318.2L388.2 318.1L389.0 317.5L389.8 318.2L390.6 318.1L391.4 318.3L392.2 317.7L393.0 318.6L393.8 318.1L394.6 317.9L395.4 317.7L396.2 317.8L397.0 318.3L397.8 317.8L398.6 318.4L399.4 318.1L400.2 318.4L401.0 318.2L401.8 317.9L402.6 317.1L403.4 318.0L404.2 318.2L405.0 317.9L405.8 318.1L406.6 317.7L407.4 317.7L408.2 317.4L409.0 318.4L409.8 317.9L410.6 317.6L411.4 317.2L412.2 317.7L413.0 318.3L413.8 317.9L414.6 317.4L415.4 318.3L416.2 318.3L417.0 318.1L417.8 318.0L418.6 318.1L419.4 317.9L420.2 318.0L421.0 317.3L421.8 318.2L422.6 317.7L423.4 318.4L424.2 316.8L425.0 317.8L425.8 317.9L426.6 317.4L427.4 317.7L428.2 317.8L429.0 317.7L429.8 317.3L430.6 317.4L431.4 317.8L432.2 317.9L433.0 317.4L433.8 317.4L434.6 317.4L435.4 317.8L436.2 316.9L437.0 316.8L437.8 317.3L438.6 316.8L439.4 317.0L440.2 317.3L441.0 317.4L441.8 316.8L442.6 317.5L443.4 316.5L444.2 317.4L445.0 316.5L445.8 316.6L446.6 317.3L447.4 316.9L448.2 316.7L449.0 316.8L449.8 317.2L450.6 317.0L451.4 316.9L452.2 317.4L453.0 316.6L453.8 316.7L454.6 316.6L455.4 317.3L456.2 317.2L457.0 317.2L457.8 316.7L458.6 316.6L459.4 316.9L460.2 316.4L461.0 316.8L461.8 316.7L462.6 316.1L463.4 316.3L464.2 316.2L465.0 316.9L465.8 317.2L466.6 316.0L467.4 316.0L468.2 315.0L469.0 316.0L469.8 315.8L470.6 315.3L471.4 316.0L472.2 315.0L473.0 315.4L473.8 315.5L474.6 314.9L475.4 315.6L476.2 315.6L477.0 314.6L477.8 314.5L478.6 315.2L479.4 314.9L480.2 314.4L481.0 314.7L481.8 314.7L482.6 314.6L483.4 314.9L484.2 314.6L485.0 315.1L485.8 314.9L486.6 314.5L487.4 314.6L488.2 314.6L489.0 314.3L489.8 313.4L490.6 314.2L491.4 313.8L492.2 314.3L493.0 313.6L493.8 313.7L494.6 313.5L495.4 313.9L496.2 313.2L497.0 313.0L497.8 313.1L498.6 312.7L499.4 312.8L500.2 312.7L501.0 312.7L501.8 313.2L502.6 312.2L503.4 312.3L504.2 312.1L505.0 312.3L505.8 311.5L506.6 311.6L507.4 311.7L508.2 311.9L509.0 311.5L509.8 311.2L510.6 311.0L511.4 311.5L512.2 311.7L513.0 311.2L513.8 311.1L514.6 311.1L515.4 310.4L516.2 310.6L517.0 310.5L517.8 310.6L518.6 310.4L519.4 309.8L520.2 310.6L521.0 310.7L521.8 309.7L522.6 309.8L523.4 309.6L524.2 309.6L525.0 308.4L525.8 309.4L526.6 308.2L527.4 308.6L528.2 307.8L529.0 307.2L529.8 306.9L530.6 306.9L531.4 305.8L532.2 305.6L533.0 305.1L533.8 304.1L534.6 304.9L535.4 304.1L536.2 303.4L537.0 303.3L537.8 301.9L538.6 301.6L539.4 301.6L540.2 300.6L541.0 298.5L541.8 297.0L542.6 296.9L543.4 296.5L544.2 294.7L545.0 293.6L545.8 292.6L546.6 290.8L547.4 290.0L548.2 289.1L549.0 287.9L549.8 286.8L550.6 285.4L551.4 284.8L552.2 283.4L553.0 283.0L553.8 282.5L554.6 280.2L555.4 278.6L556.2 278.2L557.0 277.4L557.8 276.6L558.6 275.5L559.4 273.6L560.2 272.4L561.0 271.9L561.8 269.7L562.6 269.2L563.4 267.3L564.2 266.3L565.0 264.9L565.8 263.5L566.6 262.0L567.4 259.8L568.2 258.9L569.0 257.3L569.8 255.9L570.6 254.8L571.4 252.8L572.2 251.2L573.0 249.8L573.8 248.5L574.6 247.5L575.4 245.5L576.2 244.8L577.0 243.1L577.8 241.4L578.6 239.6L579.4 238.8L580.2 237.6L581.0 235.2L581.8 235.0L582.6 233.8L583.4 232.0L584.2 230.7L585.0 230.1L585.8 228.3L586.6 226.2L587.4 225.2L588.2 223.8L589.0 222.5L589.8 220.4L590.6 220.3L591.4 218.5L592.2 217.6L593.0 216.2L593.8 215.3L594.6 213.6L595.4 212.2L596.2 211.5L597.0 210.6L597.8 208.7L598.6 208.1L598.9 203.1L599.2 208.1L599.4 206.5L600.2 205.0L601.0 204.6L601.8 202.5L602.6 202.1L603.4 200.3L604.2 199.6L605.0 197.8L605.3 192.8L605.6 197.8L605.8 196.9L606.6 196.6L607.4 195.1L608.2 194.0L609.0 192.8L609.8 192.1L610.6 190.3L611.4 189.4L611.7 184.4L612.0 189.4L612.2 188.8L613.0 187.5L613.8 186.6L614.6 185.9L615.4 184.9L616.2 183.9L617.0 183.7L617.8 182.5L618.6 181.7L618.9 176.7L619.2 181.7L619.4 180.3L620.2 179.1L621.0 177.9L621.8 177.4L622.6 175.8L623.4 175.5L624.2 175.2L625.0 174.6L625.3 169.6L625.6 174.6L625.8 173.5L626.6 171.9L627.4 171.6L628.2 170.3L629.0 170.1L629.8 168.9L630.6 168.5L631.4 168.4L632.2 167.0L632.5 162.0L632.8 167.0L633.0 166.8L633.8 165.2L634.6 164.2L635.4 164.2L636.2 163.6L637.0 162.0L637.8 161.5L638.6 160.2L638.9 155.2L639.2 160.2L639.4 160.0L640.2 159.7L641.0 158.7L641.8 157.8L642.6 156.8L643.4 156.9L644.2 156.4L645.0 155.7L645.3 150.7L645.6 155.7L645.8 155.0L646.6 153.8L647.4 154.5L648.2 153.2L649.0 152.7L649.8 152.5L650.6 150.9L651.4 151.3L652.2 150.8L652.5 145.8L652.8 150.8L653.0 150.5L653.8 150.4L654.6 149.7L655.4 148.3L656.2 148.5L657.0 148.3L657.8 147.8L658.6 146.8L658.9 141.8L659.2 146.8L659.4 146.3L660.2 146.8L661.0 146.3L661.8 145.8L662.6 144.8L663.4 145.9L664.2 143.7L665.0 144.4L665.3 139.4L665.6 144.4L665.8 145.0L666.6 143.8L667.4 143.7L668.2 142.9L669.0 143.7L669.8 142.4" stroke="#d03434" stroke-width="1.5"/>
 <path d="M381.0 318.6L381.8 316.5L382.6 318.3L383.4 317.7L384.2 317.7L385.0 317.9L385.8 316.8L386.6 317.9L387.4 317.5L388.2 318.6L389.0 318.1L389.8 317.8L390.6 317.8L391.4 317.6L392.2 317.4L393.0 317.8L393.8 318.3L394.6 317.9L395.4 318.6L396.2 317.9L397.0 318.0L397.8 318.6L398.6 318.3L399.4 317.7L400.2 317.9L401.0 318.3L401.8 318.6L402.6 317.8L403.4 317.8L404.2 318.6L405.0 317.4L405.8 317.8L406.6 318.5L407.4 318.3L408.2 318.0L409.0 318.4L409.8 316.3L410.6 318.6L411.4 317.4L412.2 317.0L413.0 318.1L413.8 318.4L414.6 317.7L415.4 317.3L416.2 318.0L417.0 317.9L417.8 318.6L418.6 318.4L419.4 318.0L420.2 318.6L421.0 317.8L421.8 317.4L422.6 318.3L423.4 318.3L424.2 317.8L425.0 317.4L425.8 318.0L426.6 316.4L427.4 318.3L428.2 318.2L429.0 316.9L429.8 317.9L430.6 317.3L431.4 318.3L432.2 316.6L433.0 317.3L433.8 318.3L434.6 318.5L435.4 316.5L436.2 317.5L437.0 318.0L437.8 317.4L438.6 318.6L439.4 317.1L440.2 318.0L441.0 317.2L441.8 318.6L442.6 317.8L443.4 317.5L444.2 316.7L445.0 318.6L445.8 318.2L446.6 318.2L447.4 318.4L448.2 317.9L449.0 317.3L449.8 317.2L450.6 317.2L451.4 318.5L452.2 316.8L453.0 317.3L453.8 317.5L454.6 317.8L455.4 318.0L456.2 316.9L457.0 316.6L457.8 317.6L458.6 318.3L459.4 318.0L460.2 317.7L461.0 317.4L461.8 317.7L462.6 317.4L463.4 318.0L464.2 317.0L465.0 317.5L465.8 317.1L466.6 317.2L467.4 316.6L468.2 317.6L469.0 316.5L469.8 316.0L470.6 313.4L471.4 313.9L472.2 313.4L473.0 313.7L473.8 311.7L474.6 313.6L475.4 313.3L476.2 311.6L477.0 311.6L477.8 311.5L478.6 311.8L479.4 312.0L480.2 312.7L481.0 311.2L481.8 311.6L482.6 311.0L483.4 311.8L484.2 311.1L485.0 311.3L485.8 309.7L486.6 310.0L487.4 309.5L488.2 310.8L489.0 310.1L489.8 309.4L490.6 309.2L491.4 309.6L492.2 308.8L493.0 308.5L493.8 309.3L494.6 310.3L495.4 308.6L496.2 308.3L497.0 307.9L497.8 307.7L498.6 308.7L499.4 308.9L500.2 308.3L501.0 308.5L501.8 308.3L502.6 308.2L503.4 307.2L504.2 307.8L505.0 308.1L505.8 307.6L506.6 307.7L507.4 307.5L508.2 307.7L509.0 308.4L509.8 307.6L510.6 307.7L511.4 308.2L512.2 308.0L513.0 308.6L513.8 306.2L514.6 307.9L515.4 307.0L516.2 307.3L517.0 307.6L517.8 307.6L518.6 307.2L519.4 306.0L520.2 305.9L521.0 303.8L521.8 302.9L522.6 302.3L523.4 300.2L524.2 300.5L525.0 298.4L525.8 297.8L526.6 295.2L527.4 293.6L528.2 292.6L529.0 291.5L529.8 289.3L530.6 288.5L531.4 286.8L532.2 286.3L533.0 283.5L533.8 283.1L534.6 280.6L535.4 278.9L536.2 277.5L537.0 275.6L537.8 274.9L538.6 273.8L539.4 271.7L540.2 270.4L541.0 269.3L541.8 266.9L542.6 265.2L543.4 263.3L544.2 260.9L545.0 260.8L545.8 257.6L546.6 257.4L547.4 255.3L548.2 254.3L549.0 251.8L549.8 249.6L550.6 248.7L551.4 246.6L552.2 245.3L553.0 244.1L553.8 242.8L554.6 241.7L555.4 240.4L556.2 239.8L557.0 237.8L557.8 238.2L558.6 236.7L559.4 237.4L560.2 236.7L561.0 233.9L561.8 234.4L562.6 233.3L563.4 231.9L564.2 231.9L565.0 230.4L565.8 228.7L566.6 228.8L567.4 228.2L568.2 227.9L569.0 226.7L569.8 227.5L570.6 227.3L571.4 225.9L572.2 226.0L572.5 223.4L572.8 226.0L573.0 226.1L573.8 225.6L574.6 226.9L575.4 225.8L576.2 224.9L577.0 225.0L577.8 225.3L578.6 226.7L579.4 225.1L579.7 222.5L580.0 225.1L580.2 225.2L581.0 225.4L581.8 225.0L582.6 226.3L583.4 224.6L584.2 225.3L585.0 224.9L585.8 225.1L586.6 224.0L586.9 221.4L587.2 224.0L587.4 225.7L588.2 224.5L589.0 224.6L589.8 223.9L590.6 224.0L591.4 224.8L592.2 225.0L593.0 224.9L593.3 222.3L593.6 224.9L593.8 225.1L594.6 224.8L595.4 224.4L596.2 224.9L597.0 224.8L597.8 224.3L598.6 224.8L599.4 225.2L600.2 224.6L600.5 222.0L600.8 224.6L601.0 224.2L601.8 224.9L602.6 225.6L603.4 224.3L604.2 224.4L605.0 224.4L605.8 225.2L606.6 223.4L607.4 224.8L607.7 222.2L608.0 224.8L608.2 225.3L609.0 224.1L609.8 225.5L610.6 224.9L611.4 224.3L612.2 224.8L613.0 223.7L613.8 224.4L614.6 225.8L614.9 223.2L615.2 225.8L615.4 224.2L616.2 225.9L617.0 224.7L617.8 225.4L618.6 224.8L619.4 223.5L620.2 224.5L621.0 225.0L621.3 222.4L621.6 225.0L621.8 224.2L622.6 224.1L623.4 225.2L624.2 224.6L625.0 224.0L625.8 224.7L626.6 225.6L627.4 224.8L628.2 225.7L628.5 223.1L628.8 225.7L629.0 226.1L629.8 225.3L630.6 224.6L631.4 224.6L632.2 225.4L633.0 226.0L633.8 225.6L634.6 225.9L635.4 225.3L635.7 222.7L636.0 225.3L636.2 225.8L637.0 225.4L637.8 225.5L638.6 225.0L639.4 224.9L640.2 225.6L641.0 225.3L641.8 225.5L642.6 226.5L642.9 223.9L643.2 226.5L643.4 226.1L644.2 228.0L645.0 226.9L645.8 226.1L646.6 227.0L647.4 226.8L648.2 226.3L649.0 227.4L649.3 224.8L649.6 227.4L649.8 226.4L650.6 225.1L651.4 227.5L652.2 226.7L653.0 228.1L653.8 226.9L654.6 226.6L655.4 228.3L656.2 226.8L656.5 224.2L656.8 226.8L657.0 227.7L657.8 228.5L658.6 227.7L659.4 227.7L660.2 227.8L661.0 228.3L661.8 227.4L662.6 228.3L663.4 228.3L663.7 225.7L664.0 228.3L664.2 229.5L665.0 227.9L665.8 227.6L666.6 228.6L667.4 228.0L668.2 228.5L669.0 228.4L669.8 229.1" stroke="#2222dd" stroke-width="1.6"/>
</g>
<g stroke="#000" stroke-width="2" fill="none">
 <line x1="380" y1="117" x2="380" y2="327"/>
 <line x1="379" y1="318.6" x2="671" y2="318.6"/>
 <line x1="380.0" y1="318.6" x2="380.0" y2="326.6"/><line x1="394.5" y1="318.6" x2="394.5" y2="323.1"/><line x1="409.0" y1="318.6" x2="409.0" y2="323.1"/><line x1="423.5" y1="318.6" x2="423.5" y2="323.1"/><line x1="438.0" y1="318.6" x2="438.0" y2="323.1"/><line x1="452.5" y1="318.6" x2="452.5" y2="323.1"/><line x1="467.0" y1="318.6" x2="467.0" y2="323.1"/><line x1="481.5" y1="318.6" x2="481.5" y2="323.1"/><line x1="496.0" y1="318.6" x2="496.0" y2="323.1"/><line x1="510.5" y1="318.6" x2="510.5" y2="323.1"/><line x1="525.0" y1="318.6" x2="525.0" y2="326.6"/><line x1="539.5" y1="318.6" x2="539.5" y2="323.1"/><line x1="554.0" y1="318.6" x2="554.0" y2="323.1"/><line x1="568.5" y1="318.6" x2="568.5" y2="323.1"/><line x1="583.0" y1="318.6" x2="583.0" y2="323.1"/><line x1="597.5" y1="318.6" x2="597.5" y2="323.1"/><line x1="612.0" y1="318.6" x2="612.0" y2="323.1"/><line x1="626.5" y1="318.6" x2="626.5" y2="323.1"/><line x1="641.0" y1="318.6" x2="641.0" y2="323.1"/><line x1="655.5" y1="318.6" x2="655.5" y2="323.1"/><line x1="670.0" y1="318.6" x2="670.0" y2="326.6"/><line x1="372" y1="318.6" x2="380" y2="318.6"/><line x1="372" y1="273.0" x2="380" y2="273.0"/><line x1="372" y1="227.5" x2="380" y2="227.5"/><line x1="372" y1="181.9" x2="380" y2="181.9"/><line x1="372" y1="136.3" x2="380" y2="136.3"/>
</g>


<svg x="1" y="411" width="298" height="371" viewBox="1 411 298 371" overflow="hidden">
 <defs>
  <filter id="blC" x="-5%" y="-5%" width="110%" height="110%"><feGaussianBlur stdDeviation="0.9"/></filter>
  <filter id="blC3" x="-30%" y="-30%" width="160%" height="160%"><feGaussianBlur stdDeviation="4"/></filter>
  <filter id="blC6" x="-30%" y="-30%" width="160%" height="160%"><feGaussianBlur stdDeviation="6"/></filter>
  <filter id="blC12" x="-50%" y="-50%" width="200%" height="200%"><feGaussianBlur stdDeviation="14"/></filter>
  <filter id="edgeC" x="-5%" y="-5%" width="110%" height="110%"><feGaussianBlur stdDeviation="5"/></filter>
  <linearGradient id="topC" x1="0" y1="0" x2="0" y2="1"><stop offset="0" stop-color="#3e3c88" stop-opacity="0.95"/><stop offset="0.45" stop-color="#423088" stop-opacity="0.6"/><stop offset="1" stop-color="#45106c" stop-opacity="0"/></linearGradient>
  <radialGradient id="hazeC"><stop offset="0" stop-color="#3f3f8a" stop-opacity="1"/><stop offset="0.5" stop-color="#3f3a88" stop-opacity="0.6"/><stop offset="1" stop-color="#3f3a88" stop-opacity="0"/></radialGradient>
  <radialGradient id="hazeC2"><stop offset="0" stop-color="#48287a" stop-opacity="1"/><stop offset="1" stop-color="#48287a" stop-opacity="0"/></radialGradient>
  <filter id="satC" x="0" y="0" width="100%" height="100%"><feColorMatrix type="saturate" values="0.92"/><feComponentTransfer><feFuncR type="linear" slope="1.0" intercept="0.015"/><feFuncG type="linear" slope="1.0" intercept="0.01"/><feFuncB type="linear" slope="1.0" intercept="0.01"/></feComponentTransfer></filter>
  <clipPath id="clC"><path d="M113.0 418.5 L120.0 416.5 L160.0 416.5 L168.0 418.0 L171.0 422.0 L175.2 430.0 L183.4 450.4 L190.5 458.6 L195.7 470.9 L205.9 487.2 L214.0 495.4 L220.0 496.0 L248.3 499.0 L276.0 500.0 L276.0 513.0 L248.3 515.5 L223.8 520.8 L201.0 527.8 L194.0 540.0 L193.0 550.0 L194.5 560.0 L197.7 568.0 L202.0 582.0 L209.0 596.0 L214.0 607.0 L217.4 618.5 L219.0 635.0 L220.0 652.0 L223.0 680.0 L228.6 697.0 L236.4 702.0 L248.4 706.0 L272.5 730.0 L300.0 738.0 L300.0 752.0 L294.0 751.6 L270.0 744.0 L248.4 734.8 L231.6 730.0 L212.3 725.0 L206.0 723.6 L186.5 726.4 L172.5 736.0 L164.0 747.5 L158.0 750.5 L152.0 748.5 L144.5 742.0 L133.0 737.0 L122.0 733.4 L108.5 726.0 L95.0 723.0 L79.6 722.8 L55.5 732.4 L43.4 749.3 L14.5 754.0 L12.0 742.0 L36.2 730.0 L48.2 708.0 L62.7 694.0 L79.6 679.4 L83.2 655.0 L80.8 631.0 L80.8 600.0 L84.6 579.0 L94.5 554.0 L93.8 532.6 L69.7 519.4 L50.0 518.0 L37.3 520.7 L33.6 519.4 L33.6 512.0 L37.3 507.0 L55.0 501.3 L85.7 495.0 L101.0 487.0 L100.0 470.6 L104.0 440.0 L108.4 426.0 L110.0 421.0 Z"/></clipPath>
  <linearGradient id="cbC" x1="0" y1="0" x2="0" y2="1"><stop offset="0.00" stop-color="#fde725"/><stop offset="0.05" stop-color="#e5e419"/><stop offset="0.10" stop-color="#cae11f"/><stop offset="0.15" stop-color="#b0dd2f"/><stop offset="0.20" stop-color="#95d840"/><stop offset="0.25" stop-color="#7ad151"/><stop offset="0.30" stop-color="#63cb5f"/><stop offset="0.35" stop-color="#4cc26c"/><stop offset="0.40" stop-color="#37b878"/><stop offset="0.45" stop-color="#25ac82"/><stop offset="0.50" stop-color="#1f9f88"/><stop offset="0.55" stop-color="#218e8d"/><stop offset="0.60" stop-color="#287d8e"/><stop offset="0.65" stop-color="#2e6f8e"/><stop offset="0.70" stop-color="#355f8d"/><stop offset="0.75" stop-color="#3b528b"/><stop offset="0.80" stop-color="#414487"/><stop offset="0.85" stop-color="#463480"/><stop offset="0.90" stop-color="#482475"/><stop offset="0.95" stop-color="#471365"/><stop offset="1.00" stop-color="#440154"/></linearGradient>
 </defs>
 <rect x="0" y="411" width="300" height="372" fill="#430c62"/>
 <ellipse cx="0" cy="470" rx="85" ry="80" fill="url(#hazeC)"/>
 <rect x="0" y="411" width="300" height="14" fill="url(#topC)"/>
 <ellipse cx="0" cy="770" rx="45" ry="35" fill="url(#hazeC)"/>
 <ellipse cx="0" cy="640" rx="14" ry="90" fill="url(#hazeC2)"/>
 <ellipse cx="230" cy="781" rx="60" ry="22" fill="url(#hazeC2)"/>
 <g filter="url(#blC)">
  <path d="M70.3 468.6 C76 462 88 455 101 452.3 L102.5 486 C95 490 85 494 75.4 496 C71 492 68 486 68.3 481 Z" fill="#4a2680" stroke="#4f4090" stroke-width="0.8"/>
  <path d="M75.4 495 C80 485 88 474 95.9 468.6 C99 474 100 480 100 484 C93 489 84 493 75.4 495 Z" fill="#4b3386" stroke="#50509a" stroke-width="0.8"/>
  <path d="M190.5 458.6 C197 462 202 464 205.9 467.8 C210 471 213 474 214 477 C216 481 217.5 484 218.1 487.2 L220.2 497 L212 497 C209 493 207 490 205.9 487.2 C202 481 198 476 195.7 470.9 Z" fill="#3a5a94"/>
 </g>
 <g filter="url(#satC)">
 <path d="M113.0 418.5 L120.0 416.5 L160.0 416.5 L168.0 418.0 L171.0 422.0 L175.2 430.0 L183.4 450.4 L190.5 458.6 L195.7 470.9 L205.9 487.2 L214.0 495.4 L220.0 496.0 L248.3 499.0 L276.0 500.0 L276.0 513.0 L248.3 515.5 L223.8 520.8 L201.0 527.8 L194.0 540.0 L193.0 550.0 L194.5 560.0 L197.7 568.0 L202.0 582.0 L209.0 596.0 L214.0 607.0 L217.4 618.5 L219.0 635.0 L220.0 652.0 L223.0 680.0 L228.6 697.0 L236.4 702.0 L248.4 706.0 L272.5 730.0 L300.0 738.0 L300.0 752.0 L294.0 751.6 L270.0 744.0 L248.4 734.8 L231.6 730.0 L212.3 725.0 L206.0 723.6 L186.5 726.4 L172.5 736.0 L164.0 747.5 L158.0 750.5 L152.0 748.5 L144.5 742.0 L133.0 737.0 L122.0 733.4 L108.5 726.0 L95.0 723.0 L79.6 722.8 L55.5 732.4 L43.4 749.3 L14.5 754.0 L12.0 742.0 L36.2 730.0 L48.2 708.0 L62.7 694.0 L79.6 679.4 L83.2 655.0 L80.8 631.0 L80.8 600.0 L84.6 579.0 L94.5 554.0 L93.8 532.6 L69.7 519.4 L50.0 518.0 L37.3 520.7 L33.6 519.4 L33.6 512.0 L37.3 507.0 L55.0 501.3 L85.7 495.0 L101.0 487.0 L100.0 470.6 L104.0 440.0 L108.4 426.0 L110.0 421.0 Z" fill="#27908b" filter="url(#blC)"/>
 <g clip-path="url(#clC)">
  <g filter="url(#blC6)">
   <ellipse cx="140" cy="445" rx="28" ry="28" fill="#2a988a"/>
   <ellipse cx="140" cy="479" rx="48" ry="6" fill="#34a486"/>
   <ellipse cx="140" cy="502" rx="50" ry="12" fill="#2a808c"/>
   <ellipse cx="150" cy="510" rx="14" ry="20" fill="#2e9a89"/>
   <ellipse cx="150" cy="545" rx="40" ry="16" fill="#2e9a89"/>
   <ellipse cx="150" cy="610" rx="58" ry="50" fill="#32a685"/>
   <ellipse cx="152" cy="660" rx="55" ry="25" fill="#38b07e"/>
   <ellipse cx="150" cy="700" rx="68" ry="34" fill="#48bc72"/>
   <ellipse cx="60" cy="505" rx="26" ry="6" fill="#2b8a8b"/>
  </g>
  <g filter="url(#blC3)">
   <ellipse cx="160" cy="576" rx="9" ry="15" fill="#56c466"/>
   <ellipse cx="170" cy="583" rx="5" ry="8" fill="#54c266"/>
   <ellipse cx="172" cy="612" rx="18" ry="9" fill="#8ed446"/>
   <path d="M134 643 C138 632 148 627 158 630 C164 632 168 638 170 646" fill="none" stroke="#56c466" stroke-width="6"/>
   <path d="M140 644 C146 640 154 640 160 645" fill="none" stroke="#4cc06a" stroke-width="4"/>
   <ellipse cx="140" cy="696" rx="11" ry="19" fill="#a8da34" transform="rotate(-35 140 696)"/>
   <ellipse cx="182" cy="699" rx="9" ry="15" fill="#98d640" transform="rotate(35 182 699)"/>
   <ellipse cx="162" cy="697" rx="5" ry="10" fill="#34b07c"/>
   <ellipse cx="158" cy="725" rx="15" ry="10" fill="#62ca5e"/>
   <ellipse cx="110" cy="675" rx="20" ry="12" fill="#58c464"/>
   <ellipse cx="205" cy="690" rx="14" ry="14" fill="#52c266"/>
   <ellipse cx="125" cy="665" rx="14" ry="8" fill="#66c85e"/>
  </g>
  <path d="M113.0 418.5 L120.0 416.5 L160.0 416.5 L168.0 418.0 L171.0 422.0 L175.2 430.0 L183.4 450.4 L190.5 458.6 L195.7 470.9 L205.9 487.2 L214.0 495.4 L220.0 496.0 L248.3 499.0 L276.0 500.0 L276.0 513.0 L248.3 515.5 L223.8 520.8 L201.0 527.8 L194.0 540.0 L193.0 550.0 L194.5 560.0 L197.7 568.0 L202.0 582.0 L209.0 596.0 L214.0 607.0 L217.4 618.5 L219.0 635.0 L220.0 652.0 L223.0 680.0 L228.6 697.0 L236.4 702.0 L248.4 706.0 L272.5 730.0 L300.0 738.0 L300.0 752.0 L294.0 751.6 L270.0 744.0 L248.4 734.8 L231.6 730.0 L212.3 725.0 L206.0 723.6 L186.5 726.4 L172.5 736.0 L164.0 747.5 L158.0 750.5 L152.0 748.5 L144.5 742.0 L133.0 737.0 L122.0 733.4 L108.5 726.0 L95.0 723.0 L79.6 722.8 L55.5 732.4 L43.4 749.3 L14.5 754.0 L12.0 742.0 L36.2 730.0 L48.2 708.0 L62.7 694.0 L79.6 679.4 L83.2 655.0 L80.8 631.0 L80.8 600.0 L84.6 579.0 L94.5 554.0 L93.8 532.6 L69.7 519.4 L50.0 518.0 L37.3 520.7 L33.6 519.4 L33.6 512.0 L37.3 507.0 L55.0 501.3 L85.7 495.0 L101.0 487.0 L100.0 470.6 L104.0 440.0 L108.4 426.0 L110.0 421.0 Z" fill="none" stroke="#2b718e" stroke-width="8" filter="url(#edgeC)" opacity="0.85"/>
 </g>
 </g>
 <circle cx="106" cy="583.5" r="1.7" fill="#c8e040"/>
 <circle cx="116.4" cy="717" r="1.2" fill="#b0e060"/>
 <circle cx="197" cy="482" r="1.3" fill="#b0f0b0"/>
 <circle cx="82" cy="631" r="1" fill="#c0e060"/>
 <ellipse cx="158" cy="749.5" rx="4.2" ry="2.4" fill="#f4e82a"/>
 <rect x="248" y="417.5" width="44" height="358" fill="#281c56" fill-opacity="0.72"/>
 <rect x="292" y="411" width="8" height="372" fill="#44368a"/>
 <rect x="254" y="424" width="9.5" height="345" fill="url(#cbC)" stroke="#e8e8f0" stroke-width="1"/>
 <g stroke="#f0f0f0" stroke-width="1"><line x1="260.5" x2="263" y1="458.7" y2="458.7"/><line x1="260.5" x2="263" y1="493.1" y2="493.1"/><line x1="260.5" x2="263" y1="527.6" y2="527.6"/><line x1="260.5" x2="263" y1="562.0" y2="562.0"/><line x1="260.5" x2="263" y1="596.4" y2="596.4"/><line x1="260.5" x2="263" y1="630.8" y2="630.8"/><line x1="260.5" x2="263" y1="665.2" y2="665.2"/><line x1="260.5" x2="263" y1="699.7" y2="699.7"/><line x1="260.5" x2="263" y1="734.1" y2="734.1"/></g>
 <g font-family="Liberation Sans" font-size="8.6" fill="#fff" font-weight="bold">
 <text x="266" y="427.4">638</text><text x="266" y="461.8">574</text><text x="266" y="496.2">510</text><text x="266" y="530.7">447</text><text x="266" y="565.1">383</text><text x="266" y="599.5">319</text><text x="266" y="633.9">255</text><text x="266" y="668.3">191</text><text x="266" y="702.8">128</text><text x="266" y="737.2">63.8</text><text x="266" y="771.6">0</text>
 </g>
 <rect x="0" y="781" width="300" height="1" fill="#2a1e50"/>
 <text x="14" y="453" font-family="Liberation Sans" font-weight="bold" font-size="27" fill="#fff">C.</text>
</svg>

<svg x="346" y="415" width="338" height="367.5" viewBox="346 415 338 367.5" overflow="hidden">
 <defs>
  <filter id="blD" x="-20%" y="-20%" width="140%" height="140%"><feGaussianBlur stdDeviation="1.2"/></filter>
  <filter id="blD3" x="-30%" y="-30%" width="160%" height="160%"><feGaussianBlur stdDeviation="3"/></filter>
  <filter id="blD5" x="-30%" y="-30%" width="160%" height="160%"><feGaussianBlur stdDeviation="5"/></filter>
  <clipPath id="clLiv"><path d="M463.9 550.0 C464.6 547.6 465.4 543.8 469.0 541.8 C472.6 539.8 480.9 539.1 485.3 537.8 C489.7 536.4 491.1 533.9 495.5 533.7 C499.9 533.5 507.9 534.7 511.8 536.7 C515.7 538.8 518.0 543.1 519.0 546.0 C520.0 548.9 519.9 552.2 518.0 554.0 C516.1 555.8 511.2 556.7 507.8 557.0 C504.4 557.3 501.0 555.3 497.6 556.0 C494.2 556.7 490.7 559.7 487.3 561.0 C483.9 562.3 480.1 563.8 477.0 564.0 C473.9 564.2 471.0 563.3 469.0 562.0 C467.0 560.7 465.9 558.0 465.0 556.0 C464.1 554.0 463.2 552.4 463.9 550.0 Z M465.0 568.4 C467.8 565.7 474.9 565.5 481.0 564.3 C487.1 563.1 495.4 561.9 501.6 561.2 C507.8 560.5 514.3 558.1 518.0 560.0 C521.7 561.9 522.8 566.9 524.0 572.4 C525.2 577.9 525.8 587.6 525.5 593.0 C525.2 598.4 526.0 602.5 522.0 605.0 C518.0 607.5 509.1 607.7 501.6 608.0 C494.1 608.3 482.9 608.8 477.0 607.0 C471.1 605.2 468.2 601.4 466.0 597.0 C463.8 592.6 464.2 585.4 464.0 580.6 C463.8 575.8 462.2 571.1 465.0 568.4 Z"/></clipPath>
  <clipPath id="clInt"><path d="M400.0 646.0 C400.3 643.3 403.2 642.0 406.0 641.0 C408.8 640.0 415.0 641.3 417.0 640.0 C419.0 638.7 416.2 634.5 418.0 633.0 C419.8 631.5 424.3 631.0 428.0 631.0 C431.7 631.0 436.7 632.5 440.0 633.0 C443.3 633.5 444.7 634.2 448.0 634.0 C451.3 633.8 455.0 632.5 460.0 632.0 C465.0 631.5 473.0 631.8 478.0 631.0 C483.0 630.2 486.7 627.2 490.0 627.0 C493.3 626.8 496.3 627.8 498.0 630.0 C499.7 632.2 498.8 636.7 500.0 640.0 C501.2 643.3 502.0 647.5 505.0 650.0 C508.0 652.5 513.5 654.7 518.0 655.0 C522.5 655.3 527.7 651.7 532.0 652.0 C536.3 652.3 541.8 654.3 544.0 657.0 C546.2 659.7 545.7 665.0 545.0 668.0 C544.3 671.0 540.8 672.0 540.0 675.0 C539.2 678.0 542.0 682.8 540.0 686.0 C538.0 689.2 532.7 693.0 528.0 694.0 C523.3 695.0 516.7 691.3 512.0 692.0 C507.3 692.7 502.8 694.7 500.0 698.0 C497.2 701.3 494.2 708.7 495.0 712.0 C495.8 715.3 500.8 717.3 505.0 718.0 C509.2 718.7 515.2 715.3 520.0 716.0 C524.8 716.7 531.5 718.3 534.0 722.0 C536.5 725.7 537.0 733.7 535.0 738.0 C533.0 742.3 527.8 745.8 522.0 748.0 C516.2 750.2 507.0 750.8 500.0 751.0 C493.0 751.2 485.3 750.5 480.0 749.0 C474.7 747.5 472.2 744.0 468.0 742.0 C463.8 740.0 457.8 739.2 455.0 737.0 C452.2 734.8 451.0 731.8 451.0 729.0 C451.0 726.2 451.8 721.8 455.0 720.0 C458.2 718.2 467.8 721.3 470.0 718.0 C472.2 714.7 468.7 705.5 468.0 700.0 C467.3 694.5 469.0 688.0 466.0 685.0 C463.0 682.0 455.0 683.5 450.0 682.0 C445.0 680.5 440.7 678.5 436.0 676.0 C431.3 673.5 425.7 669.7 422.0 667.0 C418.3 664.3 417.0 661.7 414.0 660.0 C411.0 658.3 406.3 659.3 404.0 657.0 C401.7 654.7 399.7 648.7 400.0 646.0 Z"/></clipPath>
  <linearGradient id="cbD" x1="0" y1="0" x2="0" y2="1"><stop offset="0.00" stop-color="#fde725"/><stop offset="0.05" stop-color="#e5e419"/><stop offset="0.10" stop-color="#cae11f"/><stop offset="0.15" stop-color="#b0dd2f"/><stop offset="0.20" stop-color="#95d840"/><stop offset="0.25" stop-color="#7ad151"/><stop offset="0.30" stop-color="#63cb5f"/><stop offset="0.35" stop-color="#4cc26c"/><stop offset="0.40" stop-color="#37b878"/><stop offset="0.45" stop-color="#25ac82"/><stop offset="0.50" stop-color="#1f9f88"/><stop offset="0.55" stop-color="#218e8d"/><stop offset="0.60" stop-color="#287d8e"/><stop offset="0.65" stop-color="#2e6f8e"/><stop offset="0.70" stop-color="#355f8d"/><stop offset="0.75" stop-color="#3b528b"/><stop offset="0.80" stop-color="#414487"/><stop offset="0.85" stop-color="#463480"/><stop offset="0.90" stop-color="#482475"/><stop offset="0.95" stop-color="#471365"/><stop offset="1.00" stop-color="#440154"/></linearGradient>
 </defs>
 <rect x="346" y="415" width="338" height="367" fill="#42368a"/>
 <ellipse cx="464" cy="442" rx="17" ry="11" fill="#46418c" filter="url(#blD3)"/>
 <path d="M463 470 C462 464 465 460 467 457 C469 461 470 466 469 471 Z" fill="#2f7a8c" filter="url(#blD)"/>
 <g filter="url(#blD)">
  <path d="M441.0 480.0 C441.3 476.7 442.2 473.8 444.0 472.0 C445.8 470.2 449.0 469.8 452.0 469.5 C455.0 469.2 459.7 470.2 462.0 470.0 C464.3 469.8 464.7 468.0 466.0 468.0 C467.3 468.0 467.8 469.5 470.0 470.0 C472.2 470.5 476.3 469.8 479.0 471.0 C481.7 472.2 484.6 474.3 486.0 477.0 C487.4 479.7 487.8 484.0 487.5 487.0 C487.2 490.0 485.9 493.0 484.0 495.0 C482.1 497.0 478.7 498.4 476.0 499.0 C473.3 499.6 470.2 499.0 468.0 498.5 C465.8 498.0 464.7 495.9 463.0 496.0 C461.3 496.1 460.5 498.7 458.0 499.0 C455.5 499.3 450.7 499.2 448.0 498.0 C445.3 496.8 443.2 495.0 442.0 492.0 C440.8 489.0 440.7 483.3 441.0 480.0 Z" fill="#34a186"/>
  <ellipse cx="497.6" cy="515" rx="9" ry="11.5" fill="#3aae80" transform="rotate(12 497.6 515)"/>
  <path d="M403.3 563.5 C404.1 560.2 405.8 558.2 408.4 556.3 C410.9 554.4 415.2 553.1 418.6 552.3 C422.0 551.4 425.9 550.7 428.8 551.2 C431.7 551.7 435.6 553.9 436.0 555.3 C436.4 556.7 430.7 557.9 431.0 559.4 C431.3 560.9 435.5 563.0 438.0 564.5 C440.5 566.0 444.7 567.1 446.2 568.6 C447.7 570.1 447.5 572.0 447.2 573.7 C446.9 575.4 446.1 577.3 444.2 578.8 C442.3 580.3 438.6 581.5 436.0 582.9 C433.4 584.3 432.2 586.1 428.8 587.0 C425.4 587.9 419.2 588.5 415.5 588.0 C411.8 587.5 408.3 586.0 406.3 584.0 C404.3 582.0 403.8 579.2 403.3 575.8 C402.8 572.4 402.5 566.8 403.3 563.5 Z" fill="#2a868c"/>
  <ellipse cx="439.5" cy="588" rx="6" ry="3.2" fill="#2e8a8b" transform="rotate(-20 439.5 588)"/>
  <path d="M551.0 623.0 C550.7 619.6 552.3 617.7 554.0 616.5 C555.7 615.3 558.7 614.6 561.0 616.0 C563.3 617.4 565.3 621.0 568.0 625.0 C570.7 629.0 574.0 635.2 577.0 640.0 C580.0 644.8 583.8 650.2 586.0 654.0 C588.2 657.8 589.7 660.3 590.0 663.0 C590.3 665.7 589.5 668.5 588.0 670.0 C586.5 671.5 583.3 672.7 581.0 672.0 C578.7 671.3 576.7 669.3 574.0 666.0 C571.3 662.7 568.0 656.8 565.0 652.0 C562.0 647.2 558.3 641.8 556.0 637.0 C553.7 632.2 551.3 626.4 551.0 623.0 Z" fill="#2f6e8e"/>
  <path d="M400.0 716.0 C400.9 713.7 402.8 711.4 405.0 710.0 C407.2 708.6 410.2 707.9 413.0 707.5 C415.8 707.1 419.7 706.9 422.0 707.5 C424.3 708.1 426.5 708.6 426.8 711.0 C427.1 713.4 425.3 718.8 424.0 722.0 C422.7 725.2 421.2 728.1 419.0 730.0 C416.8 731.9 413.7 733.1 411.0 733.3 C408.3 733.5 404.9 732.5 403.0 731.0 C401.1 729.5 400.0 726.5 399.5 724.0 C399.0 721.5 399.1 718.3 400.0 716.0 Z" fill="#48c06c"/>
  <path d="M566.0 708.0 C566.5 705.6 567.7 704.3 570.0 703.5 C572.3 702.7 577.2 702.4 580.0 703.0 C582.8 703.6 585.5 704.8 587.0 707.0 C588.5 709.2 588.6 712.8 589.0 716.0 C589.4 719.2 590.0 723.5 589.5 726.0 C589.0 728.5 588.2 730.0 586.0 731.0 C583.8 732.0 578.8 732.5 576.0 732.0 C573.2 731.5 570.5 730.3 569.0 728.0 C567.5 725.7 567.5 721.3 567.0 718.0 C566.5 714.7 565.5 710.4 566.0 708.0 Z" fill="#50c468"/>
  <path d="M400.0 646.0 C400.3 643.3 403.2 642.0 406.0 641.0 C408.8 640.0 415.0 641.3 417.0 640.0 C419.0 638.7 416.2 634.5 418.0 633.0 C419.8 631.5 424.3 631.0 428.0 631.0 C431.7 631.0 436.7 632.5 440.0 633.0 C443.3 633.5 444.7 634.2 448.0 634.0 C451.3 633.8 455.0 632.5 460.0 632.0 C465.0 631.5 473.0 631.8 478.0 631.0 C483.0 630.2 486.7 627.2 490.0 627.0 C493.3 626.8 496.3 627.8 498.0 630.0 C499.7 632.2 498.8 636.7 500.0 640.0 C501.2 643.3 502.0 647.5 505.0 650.0 C508.0 652.5 513.5 654.7 518.0 655.0 C522.5 655.3 527.7 651.7 532.0 652.0 C536.3 652.3 541.8 654.3 544.0 657.0 C546.2 659.7 545.7 665.0 545.0 668.0 C544.3 671.0 540.8 672.0 540.0 675.0 C539.2 678.0 542.0 682.8 540.0 686.0 C538.0 689.2 532.7 693.0 528.0 694.0 C523.3 695.0 516.7 691.3 512.0 692.0 C507.3 692.7 502.8 694.7 500.0 698.0 C497.2 701.3 494.2 708.7 495.0 712.0 C495.8 715.3 500.8 717.3 505.0 718.0 C509.2 718.7 515.2 715.3 520.0 716.0 C524.8 716.7 531.5 718.3 534.0 722.0 C536.5 725.7 537.0 733.7 535.0 738.0 C533.0 742.3 527.8 745.8 522.0 748.0 C516.2 750.2 507.0 750.8 500.0 751.0 C493.0 751.2 485.3 750.5 480.0 749.0 C474.7 747.5 472.2 744.0 468.0 742.0 C463.8 740.0 457.8 739.2 455.0 737.0 C452.2 734.8 451.0 731.8 451.0 729.0 C451.0 726.2 451.8 721.8 455.0 720.0 C458.2 718.2 467.8 721.3 470.0 718.0 C472.2 714.7 468.7 705.5 468.0 700.0 C467.3 694.5 469.0 688.0 466.0 685.0 C463.0 682.0 455.0 683.5 450.0 682.0 C445.0 680.5 440.7 678.5 436.0 676.0 C431.3 673.5 425.7 669.7 422.0 667.0 C418.3 664.3 417.0 661.7 414.0 660.0 C411.0 658.3 406.3 659.3 404.0 657.0 C401.7 654.7 399.7 648.7 400.0 646.0 Z" fill="#2e748d"/>
  <path d="M463.9 550.0 C464.6 547.6 465.4 543.8 469.0 541.8 C472.6 539.8 480.9 539.1 485.3 537.8 C489.7 536.4 491.1 533.9 495.5 533.7 C499.9 533.5 507.9 534.7 511.8 536.7 C515.7 538.8 518.0 543.1 519.0 546.0 C520.0 548.9 519.9 552.2 518.0 554.0 C516.1 555.8 511.2 556.7 507.8 557.0 C504.4 557.3 501.0 555.3 497.6 556.0 C494.2 556.7 490.7 559.7 487.3 561.0 C483.9 562.3 480.1 563.8 477.0 564.0 C473.9 564.2 471.0 563.3 469.0 562.0 C467.0 560.7 465.9 558.0 465.0 556.0 C464.1 554.0 463.2 552.4 463.9 550.0 Z" fill="#6cc85a"/>
  <path d="M465.0 568.4 C467.8 565.7 474.9 565.5 481.0 564.3 C487.1 563.1 495.4 561.9 501.6 561.2 C507.8 560.5 514.3 558.1 518.0 560.0 C521.7 561.9 522.8 566.9 524.0 572.4 C525.2 577.9 525.8 587.6 525.5 593.0 C525.2 598.4 526.0 602.5 522.0 605.0 C518.0 607.5 509.1 607.7 501.6 608.0 C494.1 608.3 482.9 608.8 477.0 607.0 C471.1 605.2 468.2 601.4 466.0 597.0 C463.8 592.6 464.2 585.4 464.0 580.6 C463.8 575.8 462.2 571.1 465.0 568.4 Z" fill="#5cc462"/>
 </g>
 <g filter="url(#blD3)">
  <ellipse cx="466" cy="482" rx="16" ry="10" fill="#4cb976"/>
  <ellipse cx="452" cy="478" rx="6" ry="5" fill="#3aac80"/>
  <ellipse cx="478" cy="480" rx="6" ry="6" fill="#3aac80"/>
  <ellipse cx="416" cy="560" rx="7" ry="5" fill="#3aa884"/>
  <ellipse cx="425" cy="576" rx="10" ry="5" fill="#36a485"/>
  <ellipse cx="440" cy="572" rx="7" ry="6" fill="#2e7a8d"/>
  <ellipse cx="418" cy="585" rx="10" ry="3" fill="#2f788d"/>
  <ellipse cx="413" cy="720" rx="8" ry="8" fill="#6ccd58"/>
  <ellipse cx="578" cy="718" rx="7" ry="9" fill="#72cf55"/>
 </g>
 <ellipse cx="421" cy="565.5" rx="2.2" ry="3.2" fill="#3a3a86" transform="rotate(-30 421 565.5)" filter="url(#blD)"/>
 <g clip-path="url(#clInt)" filter="url(#blD3)">
  <ellipse cx="430" cy="640" rx="14" ry="8" fill="#5cc466"/>
  <ellipse cx="442" cy="662" rx="26" ry="13" fill="#48bc6e" transform="rotate(28 442 662)"/>
  <ellipse cx="450" cy="668" rx="10" ry="7" fill="#7ad151"/>
  <ellipse cx="422" cy="650" rx="8" ry="6" fill="#4cbc6c"/>
  <ellipse cx="470" cy="645" rx="18" ry="10" fill="#2a8a8c"/>
  <ellipse cx="480" cy="700" rx="12" ry="15" fill="#2e808c"/>
  <ellipse cx="468" cy="727" rx="15" ry="7" fill="#3a9e86"/>
  <ellipse cx="505" cy="735" rx="25" ry="12" fill="#34618c"/>
  <ellipse cx="525" cy="675" rx="18" ry="15" fill="#32648d"/>
  <ellipse cx="406" cy="650" rx="8" ry="6" fill="#2c8a8b"/>
 </g>
 <g clip-path="url(#clLiv)">
  <g filter="url(#blD5)">
   <ellipse cx="497" cy="546" rx="24" ry="10" fill="#f2e626"/>
   <ellipse cx="475" cy="552" rx="8" ry="5" fill="#d8e22a"/>
   <ellipse cx="495" cy="586" rx="25" ry="19" fill="#fae824"/>
  </g>
  <circle cx="491.4" cy="580.6" r="1.5" fill="#b0d838" filter="url(#blD)"/>
 </g>
 <line x1="488" y1="444.5" x2="522.7" y2="444.5" stroke="#f4f4f8" stroke-width="1.1"/>
 <path d="M484.6 444.5 L490 442.1 L490 446.9 Z" fill="#fff"/>
 <g font-family="Liberation Sans" font-size="14.2" fill="#fff">
  <text x="525.6" y="447.8" textLength="33.3" lengthAdjust="spacingAndGlyphs">Brain</text>
  <text x="492.8" y="491.2" textLength="36.6" lengthAdjust="spacingAndGlyphs">Lungs</text>
  <text x="514.6" y="521" textLength="36.2" lengthAdjust="spacingAndGlyphs">Heart</text>
  <text x="358.6" y="553.4" textLength="57.2" lengthAdjust="spacingAndGlyphs">Stomach</text>
  <text x="526.2" y="563.8" textLength="30.4" lengthAdjust="spacingAndGlyphs">Liver</text>
  <text x="569.8" y="638.8" textLength="43.4" lengthAdjust="spacingAndGlyphs">Spleen</text>
  <text x="367.6" y="685.1" textLength="56.6" lengthAdjust="spacingAndGlyphs">Intestine</text>
 </g>
 <g font-family="Liberation Sans" font-size="12.8" fill="#fff">
  <text x="357" y="745.4" textLength="63.6" lengthAdjust="spacingAndGlyphs">Left Kidney</text>
  <text x="531" y="747" textLength="72.2" lengthAdjust="spacingAndGlyphs">Right Kidney</text>
 </g>
 <rect x="624" y="416.8" width="58" height="364" fill="#2d2458"/>
 <rect x="631" y="423" width="13.5" height="351" fill="url(#cbD)" stroke="#d8d8e8" stroke-width="1"/>
 <g stroke="#f0f0f0" stroke-width="1"><line x1="640.5" x2="644" y1="458.6" y2="458.6"/><line x1="640.5" x2="644" y1="493.6" y2="493.6"/><line x1="640.5" x2="644" y1="528.6" y2="528.6"/><line x1="640.5" x2="644" y1="563.7" y2="563.7"/><line x1="640.5" x2="644" y1="598.8" y2="598.8"/><line x1="640.5" x2="644" y1="633.8" y2="633.8"/><line x1="640.5" x2="644" y1="668.8" y2="668.8"/><line x1="640.5" x2="644" y1="703.9" y2="703.9"/><line x1="640.5" x2="644" y1="739.0" y2="739.0"/></g>
 <g font-family="Liberation Serif" font-size="8.2" fill="#fff" font-weight="bold" text-anchor="middle">
 <text x="659.5" y="426.3" textLength="23.8" lengthAdjust="spacingAndGlyphs">1814</text><text x="659.5" y="461.4" textLength="23.8" lengthAdjust="spacingAndGlyphs">1633</text><text x="659.5" y="496.4" textLength="23.8" lengthAdjust="spacingAndGlyphs">1451</text><text x="659.5" y="531.4" textLength="23.8" lengthAdjust="spacingAndGlyphs">1270</text><text x="659.5" y="566.5" textLength="23.8" lengthAdjust="spacingAndGlyphs">1088</text><text x="659.5" y="601.5" textLength="17.9" lengthAdjust="spacingAndGlyphs">907</text><text x="659.5" y="636.6" textLength="17.9" lengthAdjust="spacingAndGlyphs">726</text><text x="659.5" y="671.6" textLength="17.9" lengthAdjust="spacingAndGlyphs">544</text><text x="659.5" y="706.7" textLength="17.9" lengthAdjust="spacingAndGlyphs">363</text><text x="659.5" y="741.8" textLength="17.9" lengthAdjust="spacingAndGlyphs">181</text><text x="659.5" y="776.8" textLength="6.0" lengthAdjust="spacingAndGlyphs">0</text>
 </g>
 <text x="360" y="453" font-family="Liberation Sans" font-weight="bold" font-size="27" fill="#fff">D.</text>
</svg>
</svg>
</body></html>
